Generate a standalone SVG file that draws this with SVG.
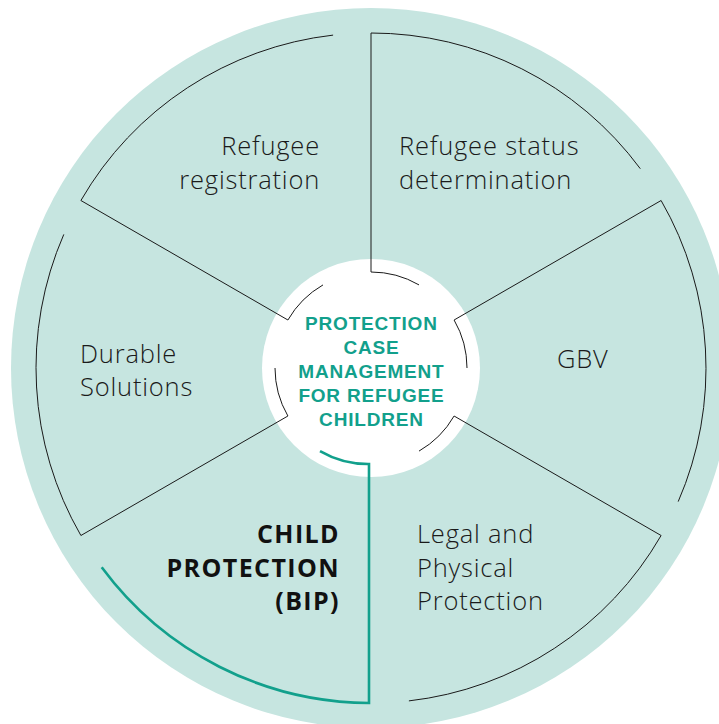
<svg xmlns="http://www.w3.org/2000/svg" width="719" height="724" viewBox="0 0 719 724">
<style>
.seg{fill:none;stroke:#1a1a1a;stroke-width:1}
.segA{fill:none;stroke:#12a08c;stroke-width:2.6}
.lbl{font-family:"Open Sans","Liberation Sans",sans-serif;font-weight:300;font-size:25.5px;letter-spacing:0.8px;fill:#1a1a1a}
.bold{font-family:"Open Sans","Liberation Sans",sans-serif;font-weight:700;font-size:25px;letter-spacing:1.4px;fill:#111}
.ctr{font-family:"Liberation Sans","Open Sans",sans-serif;font-weight:700;font-size:19px;letter-spacing:0.8px;fill:#12a08c;text-anchor:middle}
</style>
<rect width="719" height="724" fill="#ffffff"/>
<circle cx="371" cy="368" r="360" fill="#c6e5e0"/>
<circle cx="371" cy="368" r="109" fill="#ffffff"/>
<g id="reg">
<path class="seg" d="M333.1,35.1 A335,335 0 0 0 80.9,200.5 L287.9,320 A96,96 0 0 1 323,284.9"/>
<text class="lbl" text-anchor="end"><tspan x="320" y="155">Refugee</tspan><tspan x="320" y="189">registration</tspan></text>
</g>
<g id="rsd">
<path class="seg" d="M640.3,168.7 A335,335 0 0 0 371,33 L371,272 A96,96 0 0 1 419,284.9"/>
<text class="lbl"><tspan x="399" y="155">Refugee status</tspan><tspan x="399" y="189">determination</tspan></text>
</g>
<g id="gbv">
<path class="seg" d="M678.2,501.6 A335,335 0 0 0 661.1,200.5 L454.1,320 A96,96 0 0 1 467,368"/>
<text class="lbl" x="557" y="368">GBV</text>
</g>
<g id="legal">
<path class="seg" d="M408.9,700.9 A335,335 0 0 0 661.1,535.5 L454.1,416 A96,96 0 0 1 419,451.1"/>
<text class="lbl"><tspan x="417" y="543">Legal and</tspan><tspan x="417" y="577">Physical</tspan><tspan x="417" y="610">Protection</tspan></text>
</g>
<g id="child">
<path class="segA" d="M101.7,567.3 A335,335 0 0 0 369,703 L369,464 A96,96 0 0 1 320,451.1"/>
<text class="bold" text-anchor="end"><tspan x="340" y="543">CHILD</tspan><tspan x="340" y="577">PROTECTION</tspan><tspan x="340" y="610">(BIP)</tspan></text>
</g>
<g id="durable">
<path class="seg" d="M63.8,234.4 A335,335 0 0 0 80.9,535.5 L287.9,416 A96,96 0 0 1 275,368"/>
<text class="lbl"><tspan x="80" y="363">Durable</tspan><tspan x="80" y="396">Solutions</tspan></text>
</g>
<g id="center">
<text class="ctr"><tspan x="371.4" y="330">PROTECTION</tspan><tspan x="371.4" y="354">CASE</tspan><tspan x="371.4" y="378">MANAGEMENT</tspan><tspan x="371.4" y="402">FOR REFUGEE</tspan><tspan x="371.4" y="426">CHILDREN</tspan></text>
</g>
</svg>
